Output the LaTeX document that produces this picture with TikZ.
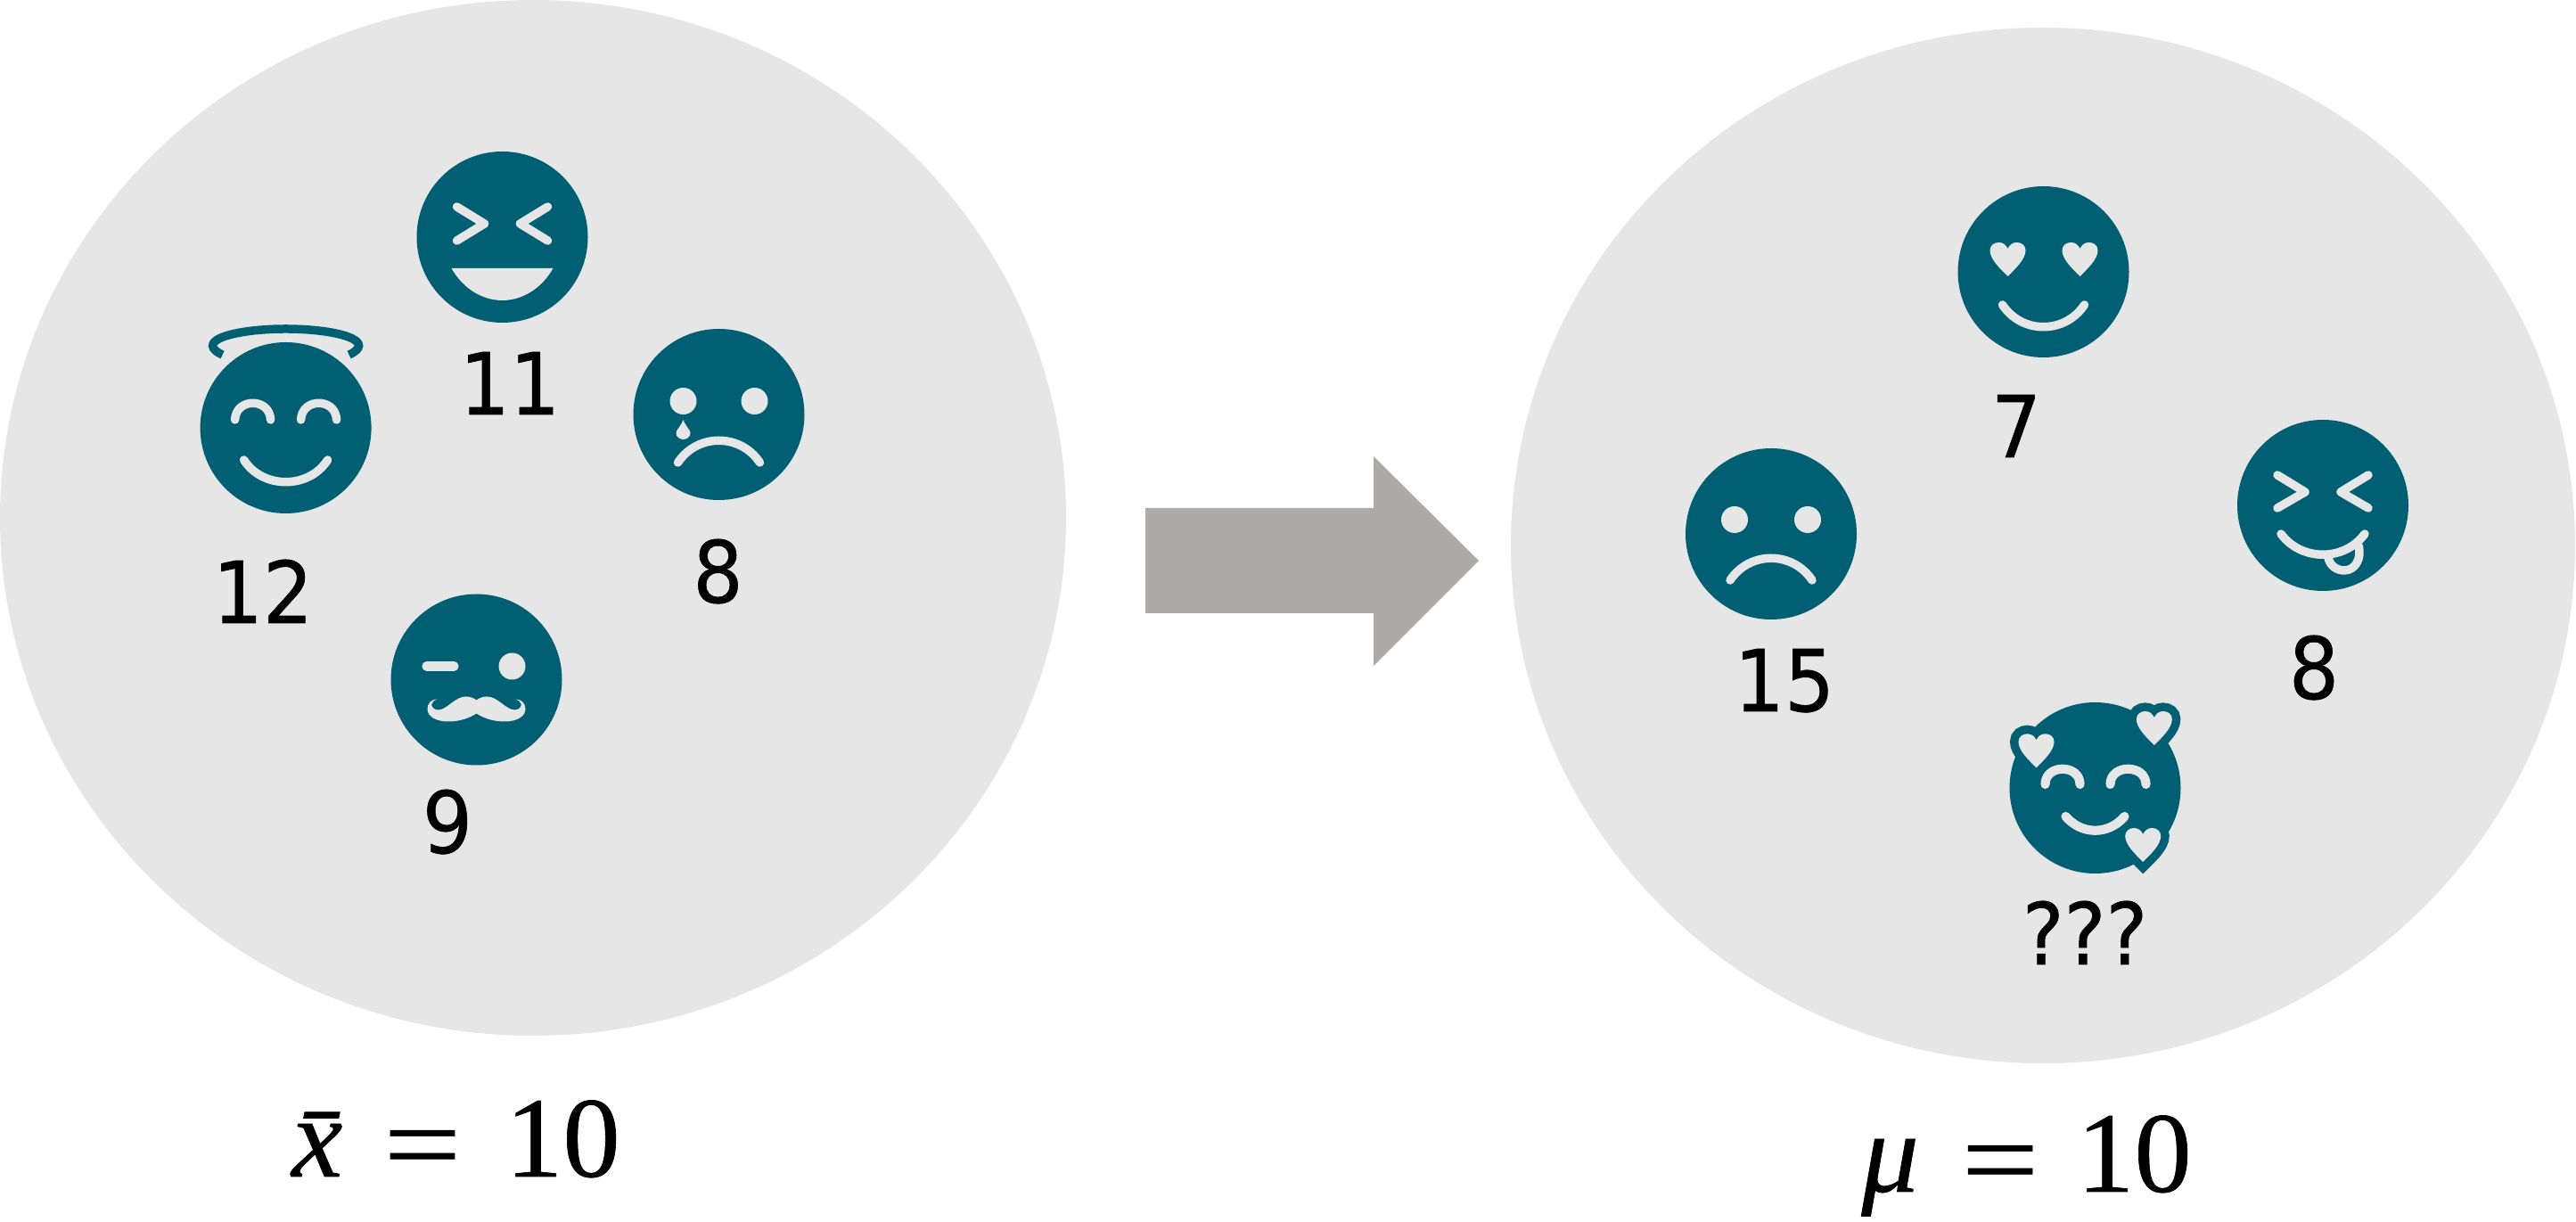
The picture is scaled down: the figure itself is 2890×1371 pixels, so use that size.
\documentclass[tikz,border=0pt]{standalone}
\usepackage{fontspec}
\newfontfamily\numfont[FakeStretch=0.92,FakeBold=0.6]{DejaVu Sans}
\newfontfamily\meanfont[FakeBold=0.5]{Liberation Serif}
\newcommand{\meaneq}{\raisebox{-2pt}{\scalebox{1.2}[1]{=}}}
\definecolor{faceteal}{HTML}{015F73}
\definecolor{blobgray}{HTML}{E6E6E6}
\definecolor{arrowgray}{HTML}{AEAAAA}
\tikzset{
  blob/.style={fill=blobgray},
  facedisc/.style={fill=faceteal},
  feature/.style={draw=blobgray, line width=2.7pt, line cap=round, line join=round},
  solidfeature/.style={fill=blobgray},
  numlabel/.style={anchor=base, inner sep=0pt, font=\numfont\fontsize{27.3}{32}\selectfont},
  meanlabel/.style={anchor=base, inner sep=0pt, font=\meanfont\fontsize{36.6}{42}\selectfont},
  smallheart/.pic={
    \path[pic actions] (0,0) .. controls (-8,-8) and (-20,-19) .. (-20,-29)
      .. controls (-20,-35) and (-15,-38) .. (-10,-38)
      .. controls (-5,-38) and (-2,-35) .. (0,-31)
      .. controls (2,-35) and (5,-38) .. (10,-38)
      .. controls (15,-38) and (20,-35) .. (20,-29)
      .. controls (20,-19) and (8,-8) .. (0,0) -- cycle;
  }
}
\begin{document}
\begin{tikzpicture}[x=0.01cm,y=-0.01cm]
  \useasboundingbox (0,0) rectangle (2890,1371);

  % Sample and population
  \fill[blob] (598,581) ellipse (598 and 581);
  \fill[blob] (2292,612) ellipse (597 and 581);

  % Arrow
  \fill[arrowgray] (1285,570) -- (1541,570) -- (1541,512) -- (1659,629)
    -- (1541,747) -- (1541,688) -- (1285,688) -- cycle;

  % Squinting face
  \begin{scope}[shift={(563.5,266)}]
    \fill[facedisc] (0,0) circle (96);
    \draw[feature] (-51,-34) -- (-20,-15) -- (-51,4);
    \draw[feature] (51,-34) -- (20,-15) -- (51,4);
    \fill[solidfeature] (-57,35) -- (57,35) .. controls (44,58) and (22,71) .. (0,71)
      .. controls (-22,71) and (-44,58) .. (-57,35) -- cycle;
  \end{scope}

  % Halo face
  \begin{scope}[shift={(320.6,480)}]
    \draw[faceteal, line width=2.7pt] (-71,-82) .. controls (-78,-85) and (-82,-89) .. (-82,-92)
      .. controls (-82,-104) and (-40,-111) .. (0,-111)
      .. controls (40,-111) and (82,-104) .. (82,-92)
      .. controls (82,-89) and (78,-85) .. (71,-82);
    \fill[facedisc] (0,0) circle (96);
    \draw[feature] (-57,-9) .. controls (-56,-34) and (-18,-34) .. (-17,-9);
    \draw[feature] (17,-9) .. controls (18,-34) and (56,-34) .. (57,-9);
    \draw[feature] (-47,36) .. controls (-26,69) and (26,69) .. (47,36);
  \end{scope}

  % Crying face
  \begin{scope}[shift={(806.5,465)}]
    \fill[facedisc] (0,0) circle (96);
    \fill[solidfeature] (-40,-15) circle (15);
    \fill[solidfeature] (40,-15) circle (15);
    \fill[solidfeature] (-40,6) .. controls (-43,14) and (-48,17) .. (-48,21)
      .. controls (-48,25) and (-44,28) .. (-40,28)
      .. controls (-36,28) and (-32,25) .. (-32,21)
      .. controls (-32,17) and (-37,14) .. (-40,6) -- cycle;
    \draw[feature] (-46,54) .. controls (-24,21) and (24,21) .. (46,54);
  \end{scope}

  % Moustache face
  \begin{scope}[shift={(534.5,762.5)}]
    \fill[facedisc] (0,0) circle (96);
    \draw[feature, line width=2.9pt] (-56,-15) -- (-25,-15);
    \fill[solidfeature] (40,-15) circle (15);
    \fill[solidfeature] (0,23) .. controls (4,20) and (8,19) .. (12,19)
      .. controls (24,19) and (33,34) .. (43,34)
      .. controls (48,34) and (51,30) .. (50,27) .. controls (49,24) and (47,23) .. (44,22)
      .. controls (51,22) and (55,27) .. (55,33)
      .. controls (55,42) and (44,47) .. (32,47)
      .. controls (18,47) and (8,43) .. (0,38)
      .. controls (-8,43) and (-18,47) .. (-32,47)
      .. controls (-44,47) and (-55,42) .. (-55,33)
      .. controls (-55,27) and (-51,22) .. (-44,22)
      .. controls (-47,23) and (-49,24) .. (-50,27) .. controls (-51,30) and (-48,34) .. (-43,34)
      .. controls (-33,34) and (-24,19) .. (-12,19)
      .. controls (-8,19) and (-4,20) .. (0,23) -- cycle;
  \end{scope}

  % Heart eyes face
  \begin{scope}[shift={(2292.5,305)}]
    \fill[facedisc] (0,0) circle (96);
    \pic[fill=blobgray] at (-40,5) {smallheart};
    \pic[fill=blobgray] at (41,5) {smallheart};
    \draw[feature] (-46,37) .. controls (-24,70) and (24,70) .. (46,37);
  \end{scope}

  % Sad face
  \begin{scope}[shift={(1987,599)}]
    \fill[facedisc] (0,0) circle (96);
    \fill[solidfeature] (-41,-16) circle (15);
    \fill[solidfeature] (41,-16) circle (15);
    \draw[feature] (-46,52) .. controls (-24,19) and (24,19) .. (46,52);
  \end{scope}

  % Tongue face
  \begin{scope}[shift={(2606,567)}]
    \fill[facedisc] (0,0) circle (96);
    \draw[feature] (-51,-34) -- (-20,-15) -- (-51,3);
    \draw[feature] (51,-34) -- (20,-15) -- (51,3);
    \draw[feature] (-47,32) .. controls (-24,63) and (24,63) .. (47,32);
    \draw[feature] (6,59) .. controls (8,68) and (16,73) .. (24,73)
      .. controls (36,73) and (44,60) .. (40,45);
  \end{scope}

  % Face with hearts
  \begin{scope}[shift={(2350.5,884)}]
    \fill[facedisc] (0,0) circle (96);
    \pic[draw=faceteal, line width=5.4pt] at (-66,-22.7) {smallheart};
    \pic[draw=faceteal, line width=5.4pt] at (66.3,-48) {smallheart};
    \pic[draw=faceteal, line width=5.4pt] at (53.7,83) {smallheart};
    \pic[fill=blobgray] at (-66,-22.7) {smallheart};
    \pic[fill=blobgray] at (66.3,-48) {smallheart};
    \pic[fill=blobgray] at (53.7,83) {smallheart};
    \draw[feature, line width=2.9pt] (-56,-4) .. controls (-56,-27) and (-17,-27) .. (-17,-4);
    \draw[feature, line width=2.9pt] (17,-4) .. controls (17,-27) and (57,-27) .. (57,-4);
    \draw[feature, line width=2.9pt] (-33,32) .. controls (-15,53) and (15,53) .. (33,32);
  \end{scope}

  % Values
  \node[numlabel] (valueEleven) at (572,465) {11};
  \node[numlabel] (valueTwelve) at (295,699) {12};
  \node[numlabel] (valueEightLeft) at (805.5,676) {8};
  \node[numlabel] (valueNine) at (502,957) {9};
  \node[numlabel] (valueSeven) at (2262,513) {7};
  \node[numlabel] (valueFifteen) at (2002,798) {15};
  \node[numlabel] (valueEightRight) at (2596,784) {8};
  \node[numlabel] (valueUnknown) at (2339,1082) {???};

  % Means
  \node[meanlabel] (sampleMean) at (511.5,1320) {\textit{x̄}\hspace{0.114em}\meaneq\hspace{0.385em}10};
  \node[meanlabel] (populationMean) at (2273.5,1337) {\textit{μ}\hspace{0.37em}\meaneq\hspace{0.33em}10};

\end{tikzpicture}
\end{document}
